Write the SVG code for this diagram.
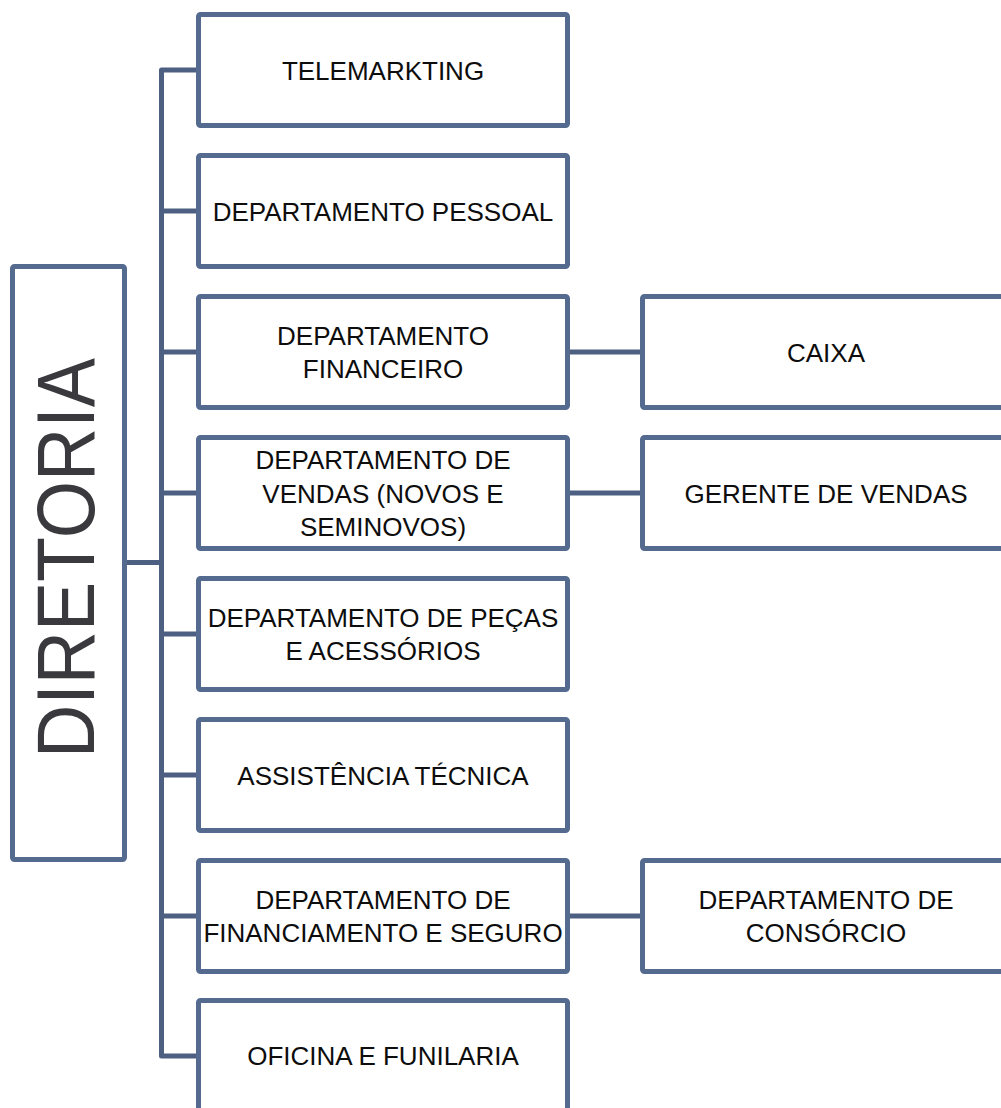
<svg xmlns="http://www.w3.org/2000/svg" width="1001" height="1108" viewBox="0 0 1001 1108">
<style>
.box{fill:#ffffff;stroke:#546a8e;stroke-width:5;stroke-linejoin:round}
.con{fill:none;stroke:#4e6082;stroke-width:5;stroke-linejoin:round;stroke-linecap:butt}
.t{font-family:"Liberation Sans",Arial,sans-serif;font-size:26px;fill:#0d0d0d;text-anchor:middle}
.big{font-family:"Liberation Sans",Arial,sans-serif;font-size:82px;fill:#3a393e;text-anchor:middle}
</style>
<rect width="1001" height="1108" fill="#ffffff"/>
<g id="connectors">
<path class="con" d="M198.5,70 H161.5 V1056 H198.5"/>
<path class="con" d="M161.5,211 H198.5"/>
<path class="con" d="M161.5,352 H198.5"/>
<path class="con" d="M161.5,493 H198.5"/>
<path class="con" d="M161.5,634 H198.5"/>
<path class="con" d="M161.5,775 H198.5"/>
<path class="con" d="M161.5,916 H198.5"/>
<path class="con" d="M124.5,562.5 H161.5"/>
<path class="con" d="M567.5,352 H642.5"/>
<path class="con" d="M567.5,493 H642.5"/>
<path class="con" d="M567.5,916 H642.5"/>
</g>
<g id="diretoria">
<rect class="box" x="12.5" y="266.5" width="112" height="593" rx="2"/>
<text class="big" transform="translate(94,558) rotate(-90)" x="0" y="0" textLength="400" lengthAdjust="spacingAndGlyphs">DIRETORIA</text>
</g>
<g id="telemarkting">
<rect class="box" x="198.5" y="14.5" width="369" height="111" rx="2"/>
<text class="t" x="383" y="79.5">TELEMARKTING</text>
</g>
<g id="dep-pessoal">
<rect class="box" x="198.5" y="155.5" width="369" height="111" rx="2"/>
<text class="t" x="383" y="220.5">DEPARTAMENTO PESSOAL</text>
</g>
<g id="dep-financeiro">
<rect class="box" x="198.5" y="296.5" width="369" height="111" rx="2"/>
<text class="t" x="383" y="344.5">DEPARTAMENTO</text>
<text class="t" x="383" y="378">FINANCEIRO</text>
</g>
<g id="dep-vendas">
<rect class="box" x="198.5" y="437.5" width="369" height="111" rx="2"/>
<text class="t" x="383" y="469">DEPARTAMENTO DE</text>
<text class="t" x="383" y="502.5">VENDAS (NOVOS E</text>
<text class="t" x="383" y="536">SEMINOVOS)</text>
</g>
<g id="dep-pecas">
<rect class="box" x="198.5" y="578.5" width="369" height="111" rx="2"/>
<text class="t" x="383" y="626.5">DEPARTAMENTO DE PEÇAS</text>
<text class="t" x="383" y="660">E ACESSÓRIOS</text>
</g>
<g id="assistencia">
<rect class="box" x="198.5" y="719.5" width="369" height="111" rx="2"/>
<text class="t" x="383" y="784.5">ASSISTÊNCIA TÉCNICA</text>
</g>
<g id="dep-financiamento">
<rect class="box" x="198.5" y="860.5" width="369" height="111" rx="2"/>
<text class="t" x="383" y="908.5">DEPARTAMENTO DE</text>
<text class="t" x="383" y="942">FINANCIAMENTO E SEGURO</text>
</g>
<g id="oficina">
<rect class="box" x="198.5" y="1000.5" width="369" height="111" rx="2"/>
<text class="t" x="383" y="1065">OFICINA E FUNILARIA</text>
</g>
<g id="caixa">
<rect class="box" x="642.5" y="296.5" width="370" height="111" rx="2"/>
<text class="t" x="826" y="361.5">CAIXA</text>
</g>
<g id="gerente-vendas">
<rect class="box" x="642.5" y="437.5" width="370" height="111" rx="2"/>
<text class="t" x="826" y="502.5">GERENTE DE VENDAS</text>
</g>
<g id="dep-consorcio">
<rect class="box" x="642.5" y="860.5" width="370" height="111" rx="2"/>
<text class="t" x="826" y="908.5">DEPARTAMENTO DE</text>
<text class="t" x="826" y="942">CONSÓRCIO</text>
</g>
</svg>
